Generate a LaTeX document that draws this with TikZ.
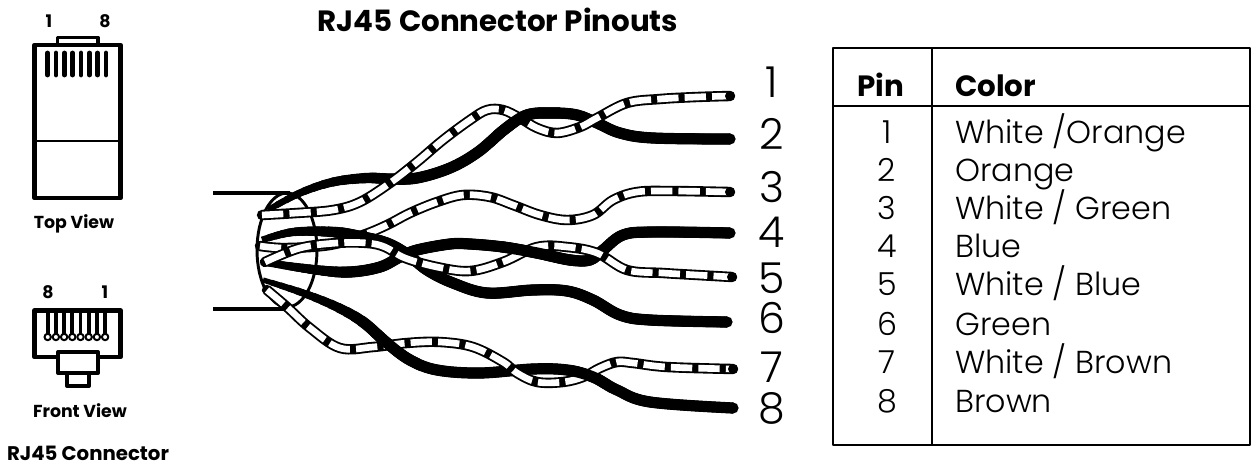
\documentclass[tikz,border=0pt]{standalone}
\usepackage{fontspec}
\setmainfont{Poppins}
\newfontfamily\lightfont{Poppins Light}
\begin{document}
\begin{tikzpicture}[x=0.75pt,y=-0.75pt,line join=round]
\useasboundingbox (0,0) rectangle (1251,467);
\tikzset{
 boldlabel/.style={font=\bfseries\fontsize{13}{15}\selectfont,inner sep=0pt,anchor=base},
 wirenum/.style={font=\lightfont\fontsize{32}{36}\selectfont,inner sep=0pt,anchor=base},
 tabletext/.style={font=\lightfont\fontsize{23.8}{27}\selectfont,inner sep=0pt,anchor=base west},
 tablenum/.style={font=\lightfont\fontsize{23.8}{27}\selectfont,inner sep=0pt,anchor=base},
 tablehead/.style={font=\bfseries\fontsize{22}{26}\selectfont,inner sep=0pt,anchor=base},
}
\def\stripedwire#1{%
 \draw[line width=7.8pt,line cap=round] plot[smooth,tension=.6] coordinates {#1};
 \draw[line width=5pt,white,dash pattern=on 16pt off 4.6pt] plot[smooth,tension=.6] coordinates {#1};}
\def\blackwire#1#2#3{%
 \foreach \k in {0,...,12}{
  \pgfmathsetmacro\wd{#1+(8.4-#1)*\k/12}
  \pgfmathsetmacro\off{#2*\k/12+0.01}
  \draw[line width=\wd pt,dash pattern=on 0pt off \off pt on 9000pt off 1pt] plot[smooth,tension=.6] coordinates {#3};
 }}
% title
\node[font=\bfseries\fontsize{22}{26}\selectfont,inner sep=0pt,anchor=base] (title) at (498,32) {RJ45 Connector Pinouts};
% top view
\node[boldlabel] (t1) at (49,28) {1};
\node[boldlabel] (t8) at (105,28) {8};
\draw[line width=2.4pt] (57.5,43) -- (57.5,37.5) -- (98,37.5) -- (98,43);
\draw[line width=3.5pt] (34.5,45) rectangle (120.5,198);
\draw[line width=1.6pt] (34.5,141) -- (120.5,141);
\foreach \i in {0,...,7}
 \draw[line width=3.6pt,line cap=round] ({47.7+8.33*\i},53) -- ({47.7+8.33*\i},75);
\node[boldlabel] (topview) at (74,228) {Top View};
% front view
\node[boldlabel] (f8) at (48,298) {8};
\node[boldlabel] (f1) at (105,298) {1};
\foreach \i in {0,...,7}{
 \draw[line width=2.8pt] ({47.7+8.2*\i},311) -- ({47.7+8.2*\i},337);
}
\foreach \i in {0,...,7}
 \draw[line width=1.5pt,fill=white] ({47.7+8.2*\i},337) circle (3.2);
\draw[line width=3.5pt] (58,357) -- (34.5,357) -- (34.5,310.5) -- (120.5,310.5) -- (120.5,357) -- (98,357);
\draw[line width=3pt] (58,352) rectangle (98,373);
\draw[line width=3pt] (67,373) -- (67,386) -- (89,386) -- (89,373);
\node[boldlabel] (frontview) at (80,417) {Front View};
\node[boldlabel,font=\bfseries\fontsize{14.8}{17}\selectfont] (rjc) at (88,460) {RJ45 Connector};
% cable
\draw[line width=2.6pt] (213,193) -- (290,193);
\draw[line width=2.6pt] (213,309) -- (285,309);
\draw[line width=2.2pt] (287,250) ellipse (30 and 57);
% wires
\def\wireA{(262,215) (297,213) (333,210) (360,202) (390,183) (417,162) (443,140) (470,120) (487,110) (503,110) (520,118) (537,128) (557,133) (580,127) (597,118) (627,103) (660,99) (697,97) (730,96)}
\def\wireB{(268,210) (300,193) (333,182) (367,178) (390,179) (417,178) (450,168) (478,152) (505,129) (527,115) (553,113) (577,115) (597,123) (620,133) (653,138) (730,139)}
\def\wireC{(260,246) (285,248) (330,245) (363,235) (387,225) (410,213) (437,202) (463,195) (490,197) (513,205) (540,215) (567,220) (593,215) (613,200) (637,192) (670,191) (730,192)}
\def\wireD{(262,262) (317,270) (350,272) (380,267) (400,257) (417,250) (450,244) (470,244) (503,247) (537,253) (570,260) (590,260) (603,250) (623,235) (653,232) (730,233)}
\def\wireE{(265,262) (300,248) (337,243) (367,243) (385,247) (405,258) (437,267) (470,271) (503,262) (537,247) (567,247) (597,253) (627,270) (663,273) (697,275) (732,277)}
\def\wireF{(262,240) (293,232) (333,232) (363,237) (387,243) (407,254) (427,270) (453,283) (487,293) (533,290) (567,291) (593,300) (620,315) (650,320) (727,322)}
\def\wireG{(267,290) (287,307) (310,328) (340,348) (373,347) (407,343) (440,342) (473,347) (503,362) (517,373) (537,382) (563,382) (583,377) (600,368) (617,362) (633,363) (667,367) (733,369)}
\def\wireH{(263,280) (303,293) (337,307) (363,322) (387,343) (410,360) (437,370) (480,373) (533,369) (567,370) (593,377) (617,390) (650,402) (733,408)}
\blackwire{4.5}{90}{\wireB}
\stripedwire{\wireA}
\begin{scope}
 \clip (493,100) rectangle (560,150);
 \draw[line width=8.4pt] plot[smooth,tension=.6] coordinates {\wireB};
\end{scope}
\stripedwire{\wireC}
\blackwire{5}{60}{\wireF}
\blackwire{5}{60}{\wireD}
\stripedwire{\wireE}
\begin{scope}
 \clip (500,235) rectangle (575,275);
 \draw[line width=8.4pt] plot[smooth,tension=.6] coordinates {\wireD};
\end{scope}
\blackwire{4}{80}{\wireH}
\stripedwire{\wireG}
\begin{scope}
 \clip (370,330) rectangle (420,370);
 \draw[line width=8.4pt] plot[smooth,tension=.6] coordinates {\wireH};
\end{scope}
\begin{scope}
 \clip (570,355) rectangle (610,400);
 \draw[line width=8.4pt] plot[smooth,tension=.6] coordinates {\wireH};
\end{scope}
\foreach \p in {(730,139),(730,233),(727,322),(733,408)} \fill \p circle (5.6);
\foreach \p in {(730,96),(730,192),(732,277),(733,369)} \fill \p circle (5);
% wire numbers
\node[wirenum] (n1) at (772,97) {1};
\node[wirenum] (n2) at (772,149) {2};
\node[wirenum] (n3) at (772,202) {3};
\node[wirenum] (n4) at (772,247) {4};
\node[wirenum] (n5) at (772,293) {5};
\node[wirenum] (n6) at (772,333) {6};
\node[wirenum] (n7) at (772,382) {7};
\node[wirenum] (n8) at (772,423) {8};
% table
\draw[line width=2.2pt] (833,48) rectangle (1250,445);
\draw[line width=1.4pt] (833,106) -- (1250,106);
\draw[line width=1.4pt] (932,48) -- (932,445);
\node[tablehead] (hpin) at (881,96) {Pin};
\node[tablehead,anchor=base west] (hcol) at (955,96) {Color};
\node[tablenum] (p1) at (887,143) {1};
\node[tablenum] (p2) at (887,181) {2};
\node[tablenum] (p3) at (887,219) {3};
\node[tablenum] (p4) at (887,257) {4};
\node[tablenum] (p5) at (887,295) {5};
\node[tablenum] (p6) at (887,335) {6};
\node[tablenum] (p7) at (887,373) {7};
\node[tablenum] (p8) at (887,412) {8};
\node[tabletext] (c1) at (955,143) {White /Orange};
\node[tabletext] (c2) at (955,181) {Orange};
\node[tabletext] (c3) at (955,219) {White / Green};
\node[tabletext] (c4) at (955,257) {Blue};
\node[tabletext] (c5) at (955,295) {White / Blue};
\node[tabletext] (c6) at (955,335) {Green};
\node[tabletext] (c7) at (955,373) {White / Brown};
\node[tabletext] (c8) at (955,412) {Brown};
\end{tikzpicture}
\end{document}
